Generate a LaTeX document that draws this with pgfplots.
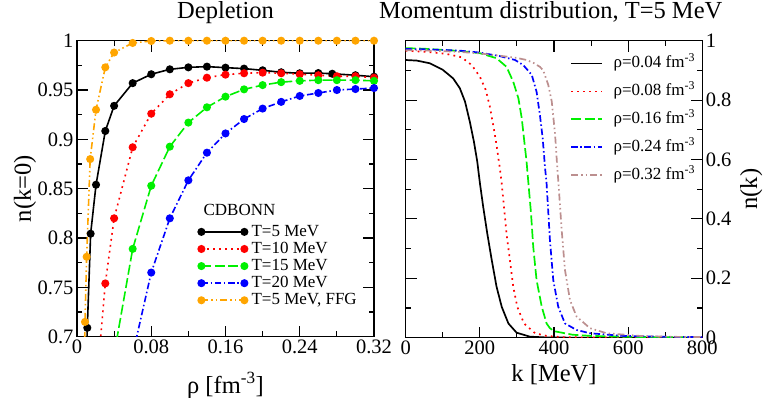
\documentclass[border=0pt]{standalone}
\usepackage{fontspec}
\setmainfont{Liberation Serif}
\usepackage{pgfplots}
\pgfplotsset{compat=1.18}
\definecolor{xorange}{RGB}{255,165,0}
\definecolor{xbrown}{RGB}{188,143,143}
\definecolor{xgreen}{RGB}{0,240,0}
\definecolor{xred}{RGB}{255,0,0}
\definecolor{xblue}{RGB}{0,0,255}
\pgfplotsset{
  every axis/.append style={
    scale only axis,
    axis line style={line width=1.3pt},
    tick style={line width=1.1pt, black},
    major tick length=11pt, minor tick length=5.5pt,
    tick align=inside,
    ticklabel style={font=\fontsize{20.5}{24}\selectfont},
    /pgf/number format/assume math mode=true,
    label style={font=\fontsize{24.5}{28}\selectfont},
    title style={font=\fontsize{24.5}{28}\selectfont},
  },
  dstyle/.style={line width=1.6pt, mark=*, mark size=3.2pt, mark options={solid}},
  lstyle/.style={line width=1.7pt},
  pdot/.style={dash pattern=on 1.8pt off 4.2pt},
  pdash/.style={dash pattern=on 10pt off 3.5pt},
  pdashdot/.style={dash pattern=on 6.5pt off 2.7pt on 1.5pt off 2.7pt},
  pdashdotdot/.style={dash pattern=on 7pt off 3pt on 1.5pt off 3pt on 1.5pt off 3pt},
}
\begin{document}
\begin{tikzpicture}
\path[use as bounding box] (-77pt,-60.3pt) rectangle (686pt,336.7pt);
% ---------------- Left panel ----------------
\begin{axis}[
  at={(0pt,0pt)}, anchor=south west,
  width=297pt, height=296pt,
  xmin=0, xmax=0.32, ymin=0.7, ymax=1,
  xtick={0,0.08,0.16,0.24,0.32}, xticklabels={0,0.08,0.16,0.24,0.32},
  ytick={0.7,0.75,0.8,0.85,0.9,0.95,1}, yticklabels={0.7,0.75,0.8,0.85,0.9,0.95,1},
  minor x tick num=1, minor y tick num=1,
  title={Depletion}, title style={at={(0.5,1)}, anchor=base, yshift=16pt},
  xlabel={ρ [fm\textsuperscript{-3}]},
  xlabel style={at={(axis description cs:0.5,0)}, anchor=base, yshift=-56.3pt},
  ylabel={n(k=0)},
  ylabel style={at={(axis description cs:-0.155,0.5)}, anchor=base},
  legend style={at={(rel axis cs:0.4074,0.381)}, anchor=north west,
    font=\fontsize{17}{20}\selectfont, draw=none, fill=none, inner sep=0pt,
    nodes={inner sep=0pt, text height=12pt, text depth=3.5pt},
    row sep=1.6pt, column sep=4pt},
  legend cell align=left,
  legend image code/.code={\draw[#1,mark repeat=1,mark phase=1] plot coordinates {(0pt,0pt) (43pt,0pt)};},
]
\addplot[dstyle, black] coordinates {
 (0.010,0.675) (0.0111,0.709) (0.0147,0.8044) (0.0205,0.854) (0.0305,0.9085) (0.040,0.934)
 (0.06,0.957) (0.08,0.966) (0.10,0.971) (0.12,0.973) (0.14,0.9737) (0.16,0.9727)
 (0.18,0.9717) (0.20,0.970) (0.22,0.968) (0.24,0.967) (0.26,0.9672) (0.275,0.9665)
 (0.30,0.965) (0.32,0.9635)};
\addlegendentry{T=5 MeV}
\addplot[dstyle, xred, pdot] coordinates {
 (0.020,0.640) (0.0305,0.754) (0.040,0.820) (0.06,0.892) (0.08,0.926) (0.10,0.9457)
 (0.12,0.957) (0.14,0.9625) (0.16,0.9656) (0.18,0.967) (0.20,0.9676) (0.22,0.967)
 (0.24,0.966) (0.26,0.965) (0.28,0.964) (0.30,0.964) (0.32,0.9625)};
\addlegendentry{T=10 MeV}
\addplot[dstyle, xgreen, pdash] coordinates {
 (0.040,0.682) (0.06,0.789) (0.08,0.853) (0.10,0.8926) (0.12,0.917) (0.14,0.9325)
 (0.16,0.9433) (0.18,0.9507) (0.20,0.955) (0.22,0.958) (0.24,0.9593) (0.26,0.960)
 (0.28,0.960) (0.30,0.960) (0.32,0.9593)};
\addlegendentry{T=15 MeV}
\addplot[dstyle, xblue, pdashdot] coordinates {
 (0.060,0.682) (0.08,0.765) (0.10,0.820) (0.12,0.8585) (0.14,0.8865) (0.16,0.906)
 (0.18,0.9206) (0.20,0.9312) (0.22,0.938) (0.24,0.944) (0.26,0.947) (0.28,0.950)
 (0.30,0.951) (0.32,0.952)};
\addlegendentry{T=20 MeV}
\addplot[dstyle, xorange, pdashdotdot] coordinates {
 (0.0075,0.64) (0.0086,0.715) (0.0104,0.781) (0.0142,0.880) (0.0205,0.930) (0.0305,0.973)
 (0.040,0.988) (0.06,0.9977) (0.08,0.9997) (0.10,1) (0.12,1) (0.14,1) (0.16,1)
 (0.18,1) (0.20,1) (0.22,1) (0.24,1) (0.26,1) (0.28,1) (0.30,1) (0.32,1)};
\addlegendentry{T=5 MeV, FFG}
\node[font=\fontsize{17}{20}\selectfont, anchor=base] at (rel axis cs:0.547,0.411) {CDBONN};
\end{axis}
% ---------------- Right panel ----------------
\begin{axis}[
  at={(328.7pt,-1pt)}, anchor=south west,
  width=296.6pt, height=297pt,
  xmin=0, xmax=800, ymin=0, ymax=1,
  xtick={0,200,400,600,800}, xticklabels={0,200,400,600,800},
  ytick={0,0.2,0.4,0.6,0.8,1}, yticklabels={0,0.2,0.4,0.6,0.8,1},
  yticklabel pos=right,
  minor x tick num=1, minor y tick num=1,
  title={Momentum distribution, T=5 MeV},
  title style={at={(0.5,1)}, anchor=base, yshift=16pt, xshift=-3.3pt},
  xlabel={k [MeV]},
  xlabel style={at={(axis description cs:0.5,0)}, anchor=base, yshift=-43.3pt},
  ylabel={n(k)},
  ylabel style={at={(axis description cs:1.185,0.5)}, anchor=base},
  legend style={at={(rel axis cs:0.554,0.950)}, anchor=north west,
    font=\fontsize{17}{20}\selectfont, draw=none, fill=none, inner sep=0pt,
    nodes={inner sep=0pt, text height=12pt, text depth=3.5pt},
    row sep=12.4pt, column sep=11pt},
  legend cell align=left,
  legend image code/.code={\draw[#1] plot coordinates {(0pt,0pt) (30.7pt,0pt)};},
]
\addplot[lstyle, black] coordinates {
 (0,0.935) (30,0.933) (65,0.924) (100,0.902) (128,0.873) (146,0.840) (160,0.795)
 (173,0.727) (184,0.660) (193,0.593) (200,0.522) (209,0.441) (220,0.351) (232,0.262)
 (245,0.172) (259,0.104) (277,0.048) (299,0.017) (335,0.0035) (380,0.0008)
 (450,0.0002) (800,0)};
\addlegendentry{ρ=0.04 fm\textsuperscript{-3}}
\addplot[lstyle, xred, pdot] coordinates {
 (0,0.966) (50,0.963) (100,0.957) (120,0.953) (151,0.944) (178,0.918) (200,0.879)
 (216,0.834) (227,0.778) (236,0.716) (245,0.649) (254,0.570) (259,0.520) (265,0.441)
 (272,0.351) (281,0.262) (290,0.172) (301,0.104) (319,0.048) (349,0.015) (380,0.006)
 (420,0.002) (500,0.0005) (800,0)};
\addlegendentry{ρ=0.08 fm\textsuperscript{-3}}
\addplot[lstyle, xgreen, pdash] coordinates {
 (0,0.975) (50,0.973) (100,0.969) (150,0.965) (200,0.958) (245,0.941) (272,0.912)
 (290,0.862) (304,0.806) (313,0.739) (319,0.671) (326,0.593) (331,0.520) (338,0.419)
 (344,0.306) (353,0.194) (367,0.104) (380,0.048) (389,0.032) (400,0.022) (450,0.010)
 (500,0.006) (600,0.003) (700,0.0015) (800,0.001)};
\addlegendentry{ρ=0.16 fm\textsuperscript{-3}}
\addplot[lstyle, xblue, pdashdot] coordinates {
 (0,0.972) (50,0.971) (100,0.969) (150,0.966) (200,0.960) (254,0.948) (295,0.935)
 (317,0.918) (340,0.885) (353,0.828) (362,0.750) (369.5,0.671) (376,0.570) (380,0.520)
 (389,0.329) (398,0.194) (411.5,0.104) (429.6,0.048) (461,0.026) (497,0.015)
 (587,0.006) (700,0.003) (800,0.002)};
\addlegendentry{ρ=0.24 fm\textsuperscript{-3}}
\addplot[lstyle, xbrown, pdashdotdot] coordinates {
 (0,0.968) (50,0.967) (100,0.965) (150,0.962) (200,0.957) (250,0.950) (300,0.942)
 (326,0.935) (345,0.925) (362,0.912) (371,0.900) (384.6,0.851) (394,0.795) (403,0.683)
 (409,0.570) (411.6,0.528) (420.7,0.363) (429.6,0.228) (443,0.127) (461,0.071)
 (497,0.032) (542,0.015) (632,0.006) (722,0.003) (800,0.002)};
\addlegendentry{ρ=0.32 fm\textsuperscript{-3}}
\end{axis}
\end{tikzpicture}
\end{document}
